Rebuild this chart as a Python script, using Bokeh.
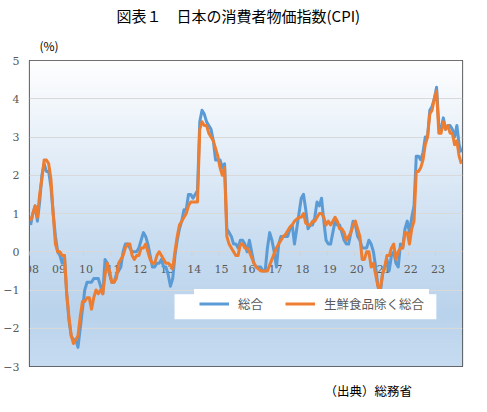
import numpy as np
from bokeh.plotting import figure
from bokeh.models import (Legend, LegendItem, BoxAnnotation, Range1d,
                          FixedTicker, ColumnDataSource, Title)
from bokeh.core.properties import value
from bokeh.embed import file_html
from bokeh.resources import INLINE

# ---------------- data (monthly, Jan 2008 - Dec 2023, y/y %) ----------------
year_labels = ["08", "09", "10", "11", "12", "13", "14", "15",
               "16", "17", "18", "19", "20", "21", "22", "23"]

cpi_total = [
    0.7, 1.0, 1.2, 0.8, 1.3, 2.0, 2.3, 2.1, 2.1, 1.7, 1.0, 0.4,          # 2008
    0.0, -0.1, -0.3, -0.1, -1.1, -1.8, -2.2, -2.3, -2.3, -2.5, -2.0, -1.5,  # 2009
    -1.0, -0.8, -0.8, -0.8, -0.7, -0.7, -0.7, -0.9, -1.1, -0.2, -0.3, -0.6,  # 2010
    -0.8, -0.8, -0.6, -0.5, -0.4, 0.0, 0.2, 0.2, 0.1, 0.0, 0.0, 0.0,     # 2011
    0.1, 0.3, 0.5, 0.4, 0.2, -0.1, -0.4, -0.4, -0.3, -0.3, -0.2, -0.4,   # 2012
    -0.4, -0.6, -0.9, -0.7, -0.1, 0.3, 0.6, 0.8, 1.1, 1.1, 1.5, 1.5,     # 2013
    1.4, 1.5, 1.6, 3.4, 3.7, 3.6, 3.4, 3.3, 3.2, 2.9, 2.4, 2.4,          # 2014
    2.4, 2.2, 2.3, 0.6, 0.5, 0.4, 0.2, 0.2, 0.1, 0.3, 0.3, 0.2,          # 2015
    0.0, 0.3, 0.0, -0.3, -0.4, -0.4, -0.4, -0.5, -0.5, 0.1, 0.5, 0.3,    # 2016
    0.0, -0.4, 0.2, 0.4, 0.4, 0.4, 0.4, 0.6, 0.7, 0.2, 0.6, 1.0,         # 2017
    1.4, 1.5, 1.1, 0.6, 0.7, 0.7, 0.9, 1.3, 1.2, 1.4, 0.8, 0.3,          # 2018
    0.2, 0.2, 0.5, 0.8, 0.7, 0.7, 0.5, 0.3, 0.2, 0.2, 0.5, 0.8,          # 2019
    0.7, 0.4, 0.3, 0.1, 0.1, 0.1, 0.3, 0.2, 0.0, -0.4, -0.9, -1.1,       # 2020
    -0.6, -0.4, -0.2, -0.5, -0.1, 0.0, -0.3, -0.4, 0.2, 0.1, 0.6, 0.8,   # 2021
    0.5, 0.9, 1.2, 2.5, 2.5, 2.4, 2.6, 3.0, 3.0, 3.7, 3.8, 4.0,          # 2022
    4.3, 3.3, 3.2, 3.5, 3.2, 3.3, 3.3, 3.2, 3.0, 3.3, 2.8, 2.6,          # 2023
]

cpi_core = [
    0.8, 1.0, 1.2, 0.9, 1.5, 1.9, 2.4, 2.4, 2.3, 1.9, 1.0, 0.2,          # 2008
    0.0, 0.0, -0.1, -0.1, -1.1, -1.7, -2.2, -2.4, -2.3, -2.2, -1.7, -1.3,  # 2009
    -1.3, -1.2, -1.2, -1.5, -1.2, -1.0, -1.1, -1.0, -1.1, -0.6, -0.3, -0.5,  # 2010
    -0.8, -0.8, -0.7, -0.3, -0.2, -0.1, 0.1, 0.2, 0.2, -0.1, -0.2, -0.1,  # 2011
    -0.1, 0.1, 0.1, 0.2, 0.0, -0.2, -0.3, -0.3, -0.1, 0.0, -0.1, -0.2,   # 2012
    -0.3, -0.3, -0.35, -0.45, 0.0, 0.4, 0.7, 0.8, 0.9, 1.0, 1.2, 1.3,    # 2013
    1.3, 1.3, 1.3, 3.2, 3.4, 3.3, 3.3, 3.1, 3.0, 2.9, 2.7, 2.5,          # 2014
    2.2, 2.0, 2.2, 0.4, 0.2, 0.1, 0.0, -0.1, -0.1, 0.2, 0.2, 0.1,        # 2015
    0.1, 0.0, -0.15, -0.3, -0.4, -0.45, -0.5, -0.5, -0.5, -0.5, -0.35, -0.2,  # 2016
    -0.05, 0.1, 0.2, 0.3, 0.4, 0.45, 0.55, 0.65, 0.7, 0.8, 0.85, 0.9,    # 2017
    0.9, 1.0, 0.75, 0.7, 0.7, 0.8, 0.8, 0.9, 1.0, 1.0, 0.9, 0.7,         # 2018
    0.8, 0.7, 0.8, 0.9, 0.8, 0.6, 0.6, 0.5, 0.3, 0.4, 0.5, 0.7,          # 2019
    0.8, 0.6, 0.4, -0.2, -0.2, 0.0, 0.0, -0.4, -0.3, -0.6, -0.9, -1.0,   # 2020
    -0.6, -0.4, -0.1, -0.1, 0.1, 0.2, -0.2, 0.0, 0.1, 0.1, 0.5, 0.5,     # 2021
    0.2, 0.6, 0.8, 2.1, 2.1, 2.2, 2.4, 2.8, 3.0, 3.6, 3.7, 4.0,          # 2022
    4.2, 3.1, 3.1, 3.4, 3.2, 3.3, 3.1, 3.1, 2.8, 2.9, 2.5, 2.3,          # 2023
]

series_names = ["総合", "生鮮食品除く総合"]
y_ticks = [-3, -2, -1, 0, 1, 2, 3, 4, 5]

# ---------------- figure ----------------
n = len(cpi_total)
months = np.arange(n) + 0.5
year_ticks = [12 * i for i in range(len(year_labels))]

p = figure(width=471, height=412, output_backend="svg", toolbar_location=None,
           x_range=Range1d(0, n), y_range=Range1d(-3, 5),
           min_border_left=20, min_border_right=9, min_border_top=60,
           min_border_bottom=46)
p.background_fill_color = "white"
p.border_fill_color = "white"
p.outline_line_color = "#404040"
p.outline_line_width = 1.2

# gradient background of plot area
H = 306
t = np.linspace(1.0, 0.0, H)  # fraction from top (row 0 is bottom)
stops = [0.0, 0.3, 0.6, 0.83, 1.0]
cols = np.array([[255, 255, 255], [228, 238, 248], [201, 221, 241],
                 [186, 211, 236], [199, 220, 241]], dtype=float)
img = np.zeros((H, 1), dtype=np.uint32)
view = img.view(dtype=np.uint8).reshape((H, 1, 4))
for c in range(3):
    view[:, 0, c] = np.interp(t, stops, cols[:, c]).astype(np.uint8)
view[:, 0, 3] = 255
p.image_rgba(image=[img], x=0, y=-3, dw=n, dh=8, level="image")

# axes
p.xaxis.visible = False
p.xgrid.visible = False
p.yaxis.ticker = FixedTicker(ticks=y_ticks)
p.ygrid.ticker = FixedTicker(ticks=y_ticks)
p.ygrid.grid_line_color = "#d9d9d9"
p.ygrid.grid_line_width = 1
p.yaxis.axis_line_color = None
p.yaxis.major_tick_line_color = None
p.yaxis.minor_tick_line_color = None
p.yaxis.major_tick_out = 0
p.yaxis.major_tick_in = 0
p.yaxis.major_label_standoff = 10
p.yaxis.major_label_text_font = "DejaVu Serif"
p.yaxis.major_label_text_font_size = "11px"
p.yaxis.major_label_text_color = "#595959"

# horizontal axis at zero: ticks + labels
p.segment(x0=year_ticks, y0=[0] * len(year_ticks), x1=year_ticks,
          y1=[-0.1] * len(year_ticks), line_color="#d0d0d0", line_width=1)
p.text(x=[tk + 1.1 for tk in year_ticks], y=[-0.46] * len(year_ticks),
       text=year_labels, text_font=value("DejaVu Serif"),
       text_font_size="11px", text_color="#595959",
       text_align="center", text_baseline="middle")

src = ColumnDataSource(dict(m=months, total=cpi_total, core=cpi_core))
r1 = p.line("m", "total", source=src, line_color="#5b9bd5", line_width=3,
            line_join="round")
r2 = p.line("m", "core", source=src, line_color="#ed7d31", line_width=3,
            line_join="round")

# legend
box = BoxAnnotation(left=64.3, right=180.4, bottom=-1.765, top=-1.11,
                    fill_color="white", fill_alpha=1.0, line_alpha=0)
p.add_layout(box)
legend = Legend(items=[LegendItem(label=series_names[0], renderers=[r1]),
                       LegendItem(label=series_names[1], renderers=[r2])],
                orientation="horizontal", location=(165, 48),
                padding=5, spacing=22, glyph_width=30, glyph_height=15,
                label_standoff=9, margin=0,
                label_text_font="Noto Sans CJK JP",
                label_text_font_size="12.5px", label_text_color="#595959",
                border_line_alpha=0, background_fill_color="white",
                background_fill_alpha=1.0)
p.add_layout(legend)

# titles / notes around the plot area
jp = "Noto Sans CJK JP"
p.add_layout(Title(text="(%)", align="left", offset=10, standoff=13,
                   text_font=jp, text_font_size="12px",
                   text_font_style="normal", text_color="#000000"), "above")
p.add_layout(Title(text="図表１　日本の消費者物価指数(CPI)", align="left",
                   offset=87, standoff=5, text_font=jp,
                   text_font_size="15px", text_font_style="normal",
                   text_color="#000000"), "above")
p.add_layout(Title(text="（出典）総務省", align="left", offset=295,
                   standoff=24, text_font=jp, text_font_size="12.5px",
                   text_font_style="normal", text_color="#000000"), "below")

open("out.html", "w").write(file_html(p, INLINE))
